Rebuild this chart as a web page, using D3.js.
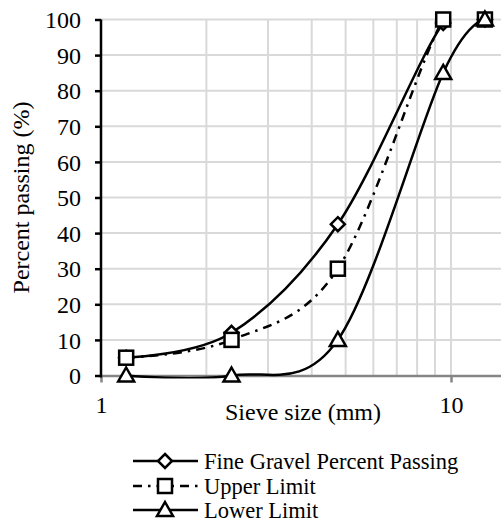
<!DOCTYPE html>
<html><head><meta charset="utf-8">
<script src="https://cdn.jsdelivr.net/npm/d3@7"></script>
<style>body{margin:0;background:#fff}svg{display:block}svg text{font-family:"Liberation Serif","Tinos","Times New Roman","DejaVu Serif",serif !important;fill:#000}</style>
</head><body><svg id="c" width="501" height="523"></svg>
<script>
const sieveSizes = [1.18, 2.36, 4.75, 9.5, 12.5];
const fineGravel = [5, 12, 42.5, 99, 100];
const upperLimit = [5, 10, 30, 100, 100];
const lowerLimit = [0, 0, 10, 85, 100];
const yTicks = [0,10,20,30,40,50,60,70,80,90,100];
const xTickLabels = [1, 10];
const xGrid = [1,2,3,4,5,6,7,8,9,10];
const seriesNames = ["Fine Gravel Percent Passing","Upper Limit","Lower Limit"];

const svg = d3.select("#c");
const L = 101, T = 19.5, B = 375.5, R = 501;
const x = d3.scaleLog().domain([1, Math.pow(10,(R-L)/350)]).range([L, R]);
const y = d3.scaleLinear().domain([0,100]).range([B, T]);
const FS = 24, LFS = 22.5;

svg.append("defs").append("clipPath").attr("id","plotclip").append("rect")
  .attr("x",L).attr("y",T-1).attr("width",R-L).attr("height",B-T+4);

// gridlines
svg.append("g").selectAll("line").data(yTicks.filter(d=>d>0)).join("line")
  .attr("x1", L).attr("x2", R).attr("y1", d=>y(d)).attr("y2", d=>y(d))
  .attr("stroke","#d9d9d9").attr("stroke-width",2);
svg.append("g").selectAll("line").data(xGrid.filter(d=>d>1)).join("line")
  .attr("x1", d=>x(d)).attr("x2", d=>x(d)).attr("y1", T).attr("y2", B)
  .attr("stroke","#d9d9d9").attr("stroke-width",2);

// x axis
const xAxis = svg.append("g").attr("transform",`translate(0,${B})`)
  .call(d3.axisBottom(x).tickValues(xTickLabels).tickFormat(d3.format("d")).tickSize(7).tickSizeOuter(0));
xAxis.attr("font-family",null);
xAxis.select(".domain").attr("stroke","#868686").attr("stroke-width",2.5);
xAxis.selectAll(".tick line").attr("stroke","#868686").attr("stroke-width",2.5);
xAxis.selectAll(".tick text").attr("font-size",FS).attr("dy",0).attr("y",37.5).attr("fill","#000");

// y axis
const yAxis = svg.append("g").attr("transform",`translate(${L},0)`)
  .call(d3.axisLeft(y).tickValues(yTicks).tickSize(6).tickSizeOuter(0));
yAxis.attr("font-family",null);
yAxis.select(".domain").attr("stroke","#000").attr("stroke-width",2.5).attr("d",`M0,${T}V${B+2}`);
yAxis.selectAll(".tick line").attr("stroke","#000").attr("stroke-width",2.5);
yAxis.selectAll(".tick text").attr("font-size",FS).attr("x",-20).attr("dy","0.34em").attr("fill","#000");

// titles
svg.append("text").attr("x",303).attr("y",420).attr("text-anchor","middle").attr("font-size",FS).text("Sieve size (mm)");
svg.append("text").attr("transform","translate(29,197.5) rotate(-90)").attr("text-anchor","middle").attr("font-size",FS).text("Percent passing (%)");

const line = d3.line().x(d=>x(d[0])).y(d=>y(d[1])).curve(d3.curveCardinal.tension(0));
const dash = "9,6,2.5,6";
const series = [
  {name:seriesNames[0], vals:fineGravel, marker:"diamond", dash:null},
  {name:seriesNames[1], vals:upperLimit, marker:"square", dash:dash},
  {name:seriesNames[2], vals:lowerLimit, marker:"triangle", dash:null}
];
function drawMarker(g, type, cx, cy){
  if(type==="square") g.append("rect").attr("x",cx-7).attr("y",cy-7).attr("width",14).attr("height",14);
  else if(type==="diamond") g.append("path").attr("d",`M${cx},${cy-7}L${cx+7},${cy}L${cx},${cy+7}L${cx-7},${cy}Z`);
  else g.append("path").attr("d",`M${cx},${cy-8}L${cx+8},${cy+6}L${cx-8},${cy+6}Z`);
}
series.forEach(s=>{
  const pts = sieveSizes.map((v,i)=>[v, s.vals[i]]);
  svg.append("path").attr("d",line(pts)).attr("fill","none").attr("stroke","#000").attr("stroke-width",2.5)
    .attr("stroke-dasharray", s.dash).attr("clip-path","url(#plotclip)");
  const g = svg.append("g").attr("fill","#fff").attr("stroke","#000").attr("stroke-width",2.5);
  pts.forEach(p=>drawMarker(g, s.marker, x(p[0]), y(p[1])));
});

// legend
const legY = [461, 486, 510];
series.forEach((s,i)=>{
  const g = svg.append("g");
  g.append("line").attr("x1",133).attr("x2",198).attr("y1",legY[i]).attr("y2",legY[i])
    .attr("stroke","#000").attr("stroke-width",2.5).attr("stroke-dasharray", s.dash);
  const mg = g.append("g").attr("fill","#fff").attr("stroke","#000").attr("stroke-width",2.5);
  drawMarker(mg, s.marker, 165, legY[i]);
  g.append("text").attr("x",204).attr("y",legY[i]).attr("dy","0.34em").attr("font-size",LFS).text(s.name);
});
</script></body></html>
